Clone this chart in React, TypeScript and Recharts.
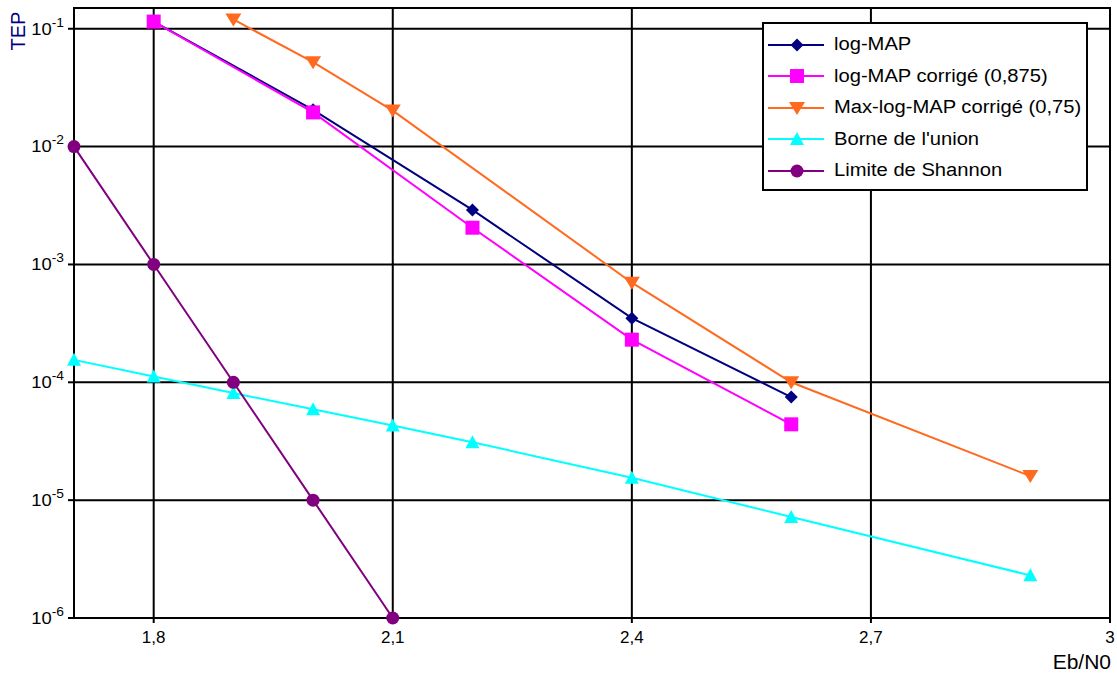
import React from "react";
import {
  LineChart,
  Line,
  XAxis,
  YAxis,
  CartesianGrid,
  Legend,
  ReferenceArea,
} from "recharts";

const FONT = '"Liberation Sans", Arial, Helvetica, sans-serif';

// Eb/N0 (dB) and TEP values
const logMapX = [1.8, 2.0, 2.2, 2.4, 2.6];
const logMapY = [0.115, 0.0205, 0.0029, 3.5e-4, 7.5e-5];

const logMapCorrX = [1.8, 2.0, 2.2, 2.4, 2.6];
const logMapCorrY = [0.115, 0.0195, 0.00205, 2.3e-4, 4.4e-5];

const maxLogMapX = [1.9, 2.0, 2.1, 2.4, 2.6, 2.9];
const maxLogMapY = [0.12, 0.052, 0.0202, 7.0e-4, 1.0e-4, 1.6e-5];

const unionX = [1.7, 1.8, 1.9, 2.0, 2.1, 2.2, 2.4, 2.6, 2.9];
const unionY = [1.55e-4, 1.12e-4, 8.1e-5, 5.9e-5, 4.3e-5, 3.1e-5, 1.55e-5, 7.2e-6, 2.3e-6];

const shannonX = [1.7, 1.8, 1.9, 2.0, 2.1];
const shannonY = [1e-2, 1e-3, 1e-4, 1e-5, 1e-6];

const xTicks = [1.8, 2.1, 2.4, 2.7, 3];
const yTicks = [1e-6, 1e-5, 1e-4, 1e-3, 1e-2, 1e-1];
const xDomain = [1.7, 3];
const yDomain = [1e-6, 0.15];

type Shape = "diamond" | "square" | "down" | "up" | "circle";

const SERIES: { name: string; color: string; shape: Shape; xs: number[]; ys: number[] }[] = [
  { name: "log-MAP", color: "#000080", shape: "diamond", xs: logMapX, ys: logMapY },
  { name: "log-MAP corrigé (0,875)", color: "#ff00ff", shape: "square", xs: logMapCorrX, ys: logMapCorrY },
  { name: "Max-log-MAP corrigé (0,75)", color: "#ff6a1f", shape: "down", xs: maxLogMapX, ys: maxLogMapY },
  { name: "Borne de l'union", color: "#00ffff", shape: "up", xs: unionX, ys: unionY },
  { name: "Limite de Shannon", color: "#800080", shape: "circle", xs: shannonX, ys: shannonY },
];

function MarkerShape({ cx, cy, shape, color }: { cx: number; cy: number; shape: Shape; color: string }) {
  if (cx == null || cy == null) return null;
  switch (shape) {
    case "diamond":
      return <path d={`M${cx},${cy - 6.5}L${cx + 6.5},${cy}L${cx},${cy + 6.5}L${cx - 6.5},${cy}Z`} fill={color} />;
    case "square":
      return <rect x={cx - 7} y={cy - 7} width={14} height={14} fill={color} />;
    case "down":
      return <path d={`M${cx - 8},${cy - 6}L${cx + 8},${cy - 6}L${cx},${cy + 7}Z`} fill={color} />;
    case "up":
      return <path d={`M${cx - 7},${cy + 6}L${cx + 7},${cy + 6}L${cx},${cy - 7}Z`} fill={color} />;
    default:
      return <circle cx={cx} cy={cy} r={6.5} fill={color} />;
  }
}

function YTick(props: any) {
  const { x, y, payload } = props;
  const exp = Math.round(Math.log10(payload.value));
  return (
    <text
      x={x}
      y={y}
      textAnchor="end"
      fontFamily={FONT}
      fontSize={16}
      fill="#000"
      transform={`translate(${x},0) scale(1.15,1) translate(${-x},0)`}
    >
      <tspan dy="0.36em">10</tspan>
      <tspan dy={-8} fontSize={12}>
        {exp}
      </tspan>
    </text>
  );
}

function LegendBox() {
  return (
    <div
      style={{
        width: 326,
        height: 169,
        boxSizing: "border-box",
        border: "2px solid #000",
        background: "#fff",
        padding: "5px 0 0 4px",
        fontFamily: FONT,
        fontSize: 18,
      }}
    >
      {SERIES.map((s) => (
        <div key={s.name} style={{ display: "flex", alignItems: "center", height: 31.5 }}>
          <svg width={56} height={20} style={{ flex: "none" }}>
            <line x1={0} y1={10} x2={56} y2={10} stroke={s.color} strokeWidth={2} />
            <MarkerShape cx={29} cy={10} shape={s.shape} color={s.color} />
          </svg>
          <span
            style={{
              marginLeft: 10,
              whiteSpace: "nowrap",
              display: "inline-block",
              transform: "scaleX(1.12)",
              transformOrigin: "left center",
            }}
          >
            {s.name}
          </span>
        </div>
      ))}
    </div>
  );
}

export default function App() {
  return (
    <div style={{ position: "absolute", left: 0, top: 0, width: 1117, height: 675, background: "#fff" }}>
      <LineChart width={1117} height={675} margin={{ top: 8, right: 7, left: 0, bottom: 0 }}>
        <CartesianGrid stroke="#000" strokeWidth={2} />
        <XAxis
          type="number"
          dataKey="x"
          domain={xDomain}
          ticks={xTicks}
          height={57}
          allowDuplicatedCategory={false}
          stroke="#000"
          strokeWidth={2}
          tickSize={5}
          tickMargin={8}
          tick={{ fill: "#000", fontSize: 17, fontFamily: FONT }}
          tickFormatter={(v: number) => String(v).replace(".", ",")}
        />
        <YAxis
          type="number"
          scale="log"
          domain={yDomain}
          ticks={yTicks}
          width={74}
          stroke="#000"
          strokeWidth={2}
          tickSize={6}
          tickMargin={4}
          tick={<YTick />}
        />
        <ReferenceArea
          x1={xDomain[0]}
          x2={xDomain[1]}
          y1={yDomain[0]}
          y2={yDomain[1]}
          fill="none"
          fillOpacity={0}
          stroke="#000"
          strokeWidth={2}
        />
        {SERIES.map((s) => (
          <Line
            key={s.name}
            name={s.name}
            data={s.xs.map((x, i) => ({ x, y: s.ys[i] }))}
            dataKey="y"
            stroke={s.color}
            strokeWidth={2}
            dot={(p: any) => <MarkerShape key={p.index} cx={p.cx} cy={p.cy} shape={s.shape} color={s.color} />}
            activeDot={false}
            isAnimationActive={false}
          />
        ))}
        <Legend
          layout="vertical"
          align="center"
          verticalAlign="middle"
          wrapperStyle={{ left: 762, top: 22, width: 326, height: 169 }}
          content={() => <LegendBox />}
        />
      </LineChart>
      <div
        style={{
          position: "absolute",
          left: 18,
          top: 31,
          transform: "translate(-50%, -50%) rotate(-90deg)",
          fontFamily: FONT,
          fontSize: 20,
          lineHeight: 1,
          color: "#000080",
          whiteSpace: "nowrap",
        }}
      >
        TEP
      </div>
      <div
        style={{
          position: "absolute",
          left: 1000,
          top: 650,
          width: 111,
          textAlign: "right",
          fontFamily: FONT,
          fontSize: 21,
          color: "#000",
        }}
      >
        Eb/N0
      </div>
    </div>
  );
}
